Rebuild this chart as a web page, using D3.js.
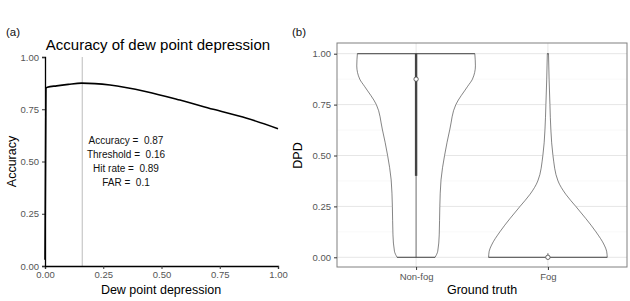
<!DOCTYPE html>
<html><head><meta charset="utf-8">
<script src="https://cdn.jsdelivr.net/npm/d3@7"></script>
<style>body{margin:0;background:#fff}svg{display:block;font-family:"Liberation Sans",Arial,sans-serif}</style>
</head><body>
<script>
// Panel (a): accuracy vs dew point depression threshold
const accX = [0, 0.004, 0.01, 0.05, 0.10, 0.157, 0.279, 0.436, 0.579, 0.722, 0.866, 1.0];
const accY = [0.03, 0.85, 0.855, 0.862, 0.869, 0.875, 0.866, 0.834, 0.794, 0.750, 0.707, 0.657];
const bestThreshold = 0.16;
const annotation = ["Accuracy =\u00a0 0.87", "Threshold =\u00a0 0.16", "Hit rate =\u00a0 0.89", "FAR =\u00a0 0.1"];
const ticksA = [0, 0.25, 0.5, 0.75, 1];

// Panel (b): violin of DPD by ground truth
const categories = ["Non-fog", "Fog"];
const nonfogLevels = [0, 0.03, 0.11, 0.25, 0.38, 0.5, 0.63, 0.75, 0.84, 0.875, 0.94, 1.0];
const nonfogDensity = [0.32, 0.365, 0.39, 0.40, 0.42, 0.48, 0.57, 0.67, 0.87, 0.95, 1.0, 0.99];
const fogLevels = [0, 0.03, 0.06, 0.125, 0.19, 0.25, 0.31, 0.375, 0.5, 0.625, 0.75, 0.875, 1.0];
const fogDensity = [1.0, 0.99, 0.95, 0.81, 0.64, 0.47, 0.30, 0.17, 0.085, 0.05, 0.034, 0.02, 0.01];
const boxLow = [0.40, 0.0];
const boxHigh = [1.0, 0.0];
const whiskerLow = [0.0, 0.0];
const whiskerHigh = [1.0, 0.02];
const medians = [0.875, 0.0];
const ticksB = [0, 0.25, 0.5, 0.75, 1];

const svg = d3.select("body").append("svg").attr("width", 630).attr("height", 301);
const fmt = d3.format(".2f");

// ---------- Panel a ----------
const xa = d3.scaleLinear().domain([0, 1]).range([45, 278]);
const ya = d3.scaleLinear().domain([0, 1]).range([266, 57]);
const ga = svg.append("g");

ga.append("line").attr("x1", xa(bestThreshold)).attr("x2", xa(bestThreshold))
  .attr("y1", ya(0)).attr("y2", ya(1)).attr("stroke", "#c8c8c8").attr("stroke-width", 1.2);

const axA = ga.append("g").attr("transform", `translate(0,${ya(0)})`)
  .call(d3.axisBottom(xa).tickValues(ticksA).tickFormat(fmt).tickSizeOuter(0).tickSize(3));
const ayA = ga.append("g").attr("transform", `translate(${xa(0)},0)`)
  .call(d3.axisLeft(ya).tickValues(ticksA).tickFormat(fmt).tickSizeOuter(0).tickSize(3));
[axA, ayA].forEach(a => {
  a.select(".domain").attr("stroke", "#000").attr("stroke-width", 1.3);
  a.selectAll(".tick line").attr("stroke", "#333");
  a.selectAll(".tick text").attr("fill", "#555").attr("font-size", 9.5).attr("font-family", "Liberation Sans, Arial");
});
axA.selectAll(".tick text").attr("dy", "0.6em");

ga.append("path").datum(accX.map((x, i) => [x, accY[i]]))
  .attr("d", d3.line().x(d => xa(d[0])).y(d => ya(d[1])).curve(d3.curveMonotoneX))
  .attr("fill", "none").attr("stroke", "#000").attr("stroke-width", 1.6);

annotation.forEach((t, i) => {
  ga.append("text").attr("x", 126).attr("y", 144 + i * 14).attr("text-anchor", "middle")
    .attr("font-size", 10).attr("fill", "#111").text(t);
});

ga.append("text").attr("x", 158).attr("y", 50).attr("text-anchor", "middle")
  .attr("font-size", 15).attr("fill", "#000").text("Accuracy of dew point depression");
ga.append("text").attr("x", 161).attr("y", 294).attr("text-anchor", "middle")
  .attr("font-size", 12.5).attr("fill", "#000").text("Dew point depression");
ga.append("text").attr("transform", `translate(16,${ya(0.5)}) rotate(-90)`).attr("text-anchor", "middle")
  .attr("font-size", 12.5).attr("fill", "#000").text("Accuracy");
ga.append("text").attr("x", 6).attr("y", 36).attr("font-size", 11.5).attr("fill", "#111").text("(a)");

// ---------- Panel b ----------
const pL = 337, pR = 627, pT = 43, pB = 267;
const xb = d3.scalePoint().domain(categories).range([pL, pR]).padding(0.6);
const unit = (pR - pL) / 2.2;
const yb = d3.scaleLinear().domain([0, 1]).range([257.3, 53.7]);
const gb = svg.append("g");

// grid
const minor = [0.125, 0.375, 0.625, 0.875];
gb.selectAll(".gmin").data(minor).join("line")
  .attr("x1", pL).attr("x2", pR).attr("y1", d => yb(d)).attr("y2", d => yb(d))
  .attr("stroke", "#f3f3f3").attr("stroke-width", 0.6);
gb.selectAll(".gmaj").data(ticksB).join("line")
  .attr("x1", pL).attr("x2", pR).attr("y1", d => yb(d)).attr("y2", d => yb(d))
  .attr("stroke", "#e6e6e6").attr("stroke-width", 1);
gb.selectAll(".gx").data(categories).join("line")
  .attr("x1", d => xb(d)).attr("x2", d => xb(d)).attr("y1", pT).attr("y2", pB)
  .attr("stroke", "#e6e6e6").attr("stroke-width", 1);

// violins
const half = 0.45 * unit;
function violin(cat, levels, dens) {
  const cx = xb(cat);
  const pts = levels.map((l, i) => [l, dens[i]]);
  const area = d3.area().y(d => yb(d[0])).x0(d => cx - d[1] * half).x1(d => cx + d[1] * half)
    .curve(d3.curveMonotoneY);
  gb.append("path").datum(pts).attr("d", area)
    .attr("fill", "#fff").attr("stroke", "#333").attr("stroke-width", 0.6);
  [0, pts.length - 1].forEach(k => {
    gb.append("line").attr("x1", cx - pts[k][1] * half).attr("x2", cx + pts[k][1] * half)
      .attr("y1", yb(pts[k][0])).attr("y2", yb(pts[k][0])).attr("stroke", "#333").attr("stroke-width", 0.6);
  });
}
violin(categories[0], nonfogLevels, nonfogDensity);
violin(categories[1], fogLevels, fogDensity);

// boxplots
categories.forEach((c, i) => {
  const cx = xb(c);
  gb.append("line").attr("x1", cx).attr("x2", cx).attr("y1", yb(whiskerLow[i])).attr("y2", yb(whiskerHigh[i]))
    .attr("stroke", "#444").attr("stroke-width", 0.8);
  if (boxHigh[i] > boxLow[i]) {
    gb.append("rect").attr("x", cx - 1.2).attr("width", 2.4)
      .attr("y", yb(boxHigh[i])).attr("height", yb(boxLow[i]) - yb(boxHigh[i])).attr("fill", "#444");
  }
  gb.append("circle").attr("cx", cx).attr("cy", yb(medians[i])).attr("r", 2.2)
    .attr("fill", "#fff").attr("stroke", "#444").attr("stroke-width", 0.8);
});

gb.append("rect").attr("x", pL).attr("y", pT).attr("width", pR - pL).attr("height", pB - pT)
  .attr("fill", "none").attr("stroke", "#808080").attr("stroke-width", 1);

const axB = gb.append("g").attr("transform", `translate(0,${pB})`)
  .call(d3.axisBottom(xb).tickSizeOuter(0).tickSize(3));
const ayB = gb.append("g").attr("transform", `translate(${pL},0)`)
  .call(d3.axisLeft(yb).tickValues(ticksB).tickFormat(fmt).tickSizeOuter(0).tickSize(3));
[axB, ayB].forEach(a => {
  a.select(".domain").remove();
  a.selectAll(".tick line").attr("stroke", "#333");
  a.selectAll(".tick text").attr("fill", "#555").attr("font-size", 9.5).attr("font-family", "Liberation Sans, Arial");
});
axB.selectAll(".tick text").attr("dy", "0.75em");

gb.append("text").attr("x", (pL + pR) / 2).attr("y", 294).attr("text-anchor", "middle")
  .attr("font-size", 12.5).attr("fill", "#000").text("Ground truth");
gb.append("text").attr("transform", `translate(302,${yb(0.5)}) rotate(-90)`).attr("text-anchor", "middle")
  .attr("font-size", 12.5).attr("fill", "#000").text("DPD");
gb.append("text").attr("x", 292).attr("y", 36).attr("font-size", 11.5).attr("fill", "#111").text("(b)");
</script>
</body></html>
